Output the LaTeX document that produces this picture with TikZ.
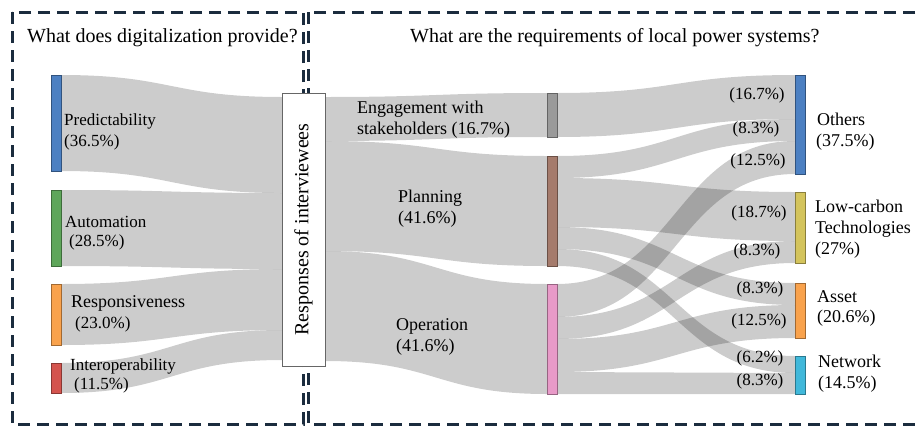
\documentclass[tikz,border=0pt]{standalone}
\usepackage{fontspec}
\setmainfont{Liberation Serif}
\definecolor{cBlue}{HTML}{4C80C2}
\definecolor{cGreen}{HTML}{5EA65A}
\definecolor{cOrange}{HTML}{F9A24C}
\definecolor{cRed}{HTML}{D4544E}
\definecolor{cGray}{HTML}{9A9A9A}
\definecolor{cBrown}{HTML}{A57B6C}
\definecolor{cPink}{HTML}{E89AC8}
\definecolor{cYellow}{HTML}{D4C45C}
\definecolor{cCyan}{HTML}{40B8DA}
\definecolor{cNavy}{HTML}{1B2C3E}
\newcommand{\fsTitle}{\fontsize{20}{24}\selectfont}
\newcommand{\fsLab}{\fontsize{18}{21.6}\selectfont}
\newcommand{\fsLeft}{\fontsize{17}{20.4}\selectfont}
\newcommand{\fsPct}{\fontsize{17}{20.4}\selectfont}
\newcommand{\sflow}[6]{\fill[flowfill] (#1,#2) .. controls ({(#1+#4)/2},#2) and ({(#1+#4)/2},#5) .. (#4,#5) -- (#4,#6) .. controls ({(#1+#4)/2},#6) and ({(#1+#4)/2},#3) .. (#1,#3) -- cycle;}
\tikzset{
  flowfill/.style={fill=black, fill opacity=0.2},
  bar/.style={draw=#1!65!black, fill=#1, line width=0.6pt, minimum width=10pt, inner sep=0pt, outer sep=0pt, anchor=north west},
  dashbox/.style={draw=cNavy, line width=3pt, dash pattern=on 12pt off 7pt},
  labL/.style={anchor=base west, inner sep=0pt, font=\fsLeft},
  labR/.style={anchor=base west, inner sep=0pt, font=\fsLab},
  pct/.style={anchor=base, inner sep=0pt, font=\fsPct},
  ttl/.style={anchor=base west, inner sep=0pt, font=\fsTitle},
  respbox/.style={draw=black!60, fill=white, line width=1pt, rotate=90, minimum width=273pt, minimum height=43pt, inner sep=0pt, font=\fsTitle}
}
\begin{document}
\begin{tikzpicture}[x=1pt,y=-1pt]
\useasboundingbox (0,0) rectangle (920,429);
\clip (0,0) rectangle (920,429);
\fill[white] (0,0) rectangle (920,429);

% dashed frames
\draw[dashbox] (12,12) rectangle (303,424);
\draw[dashbox] (308,12) rectangle (950,424);

% titles
\node[ttl] (t1) at (27,42) {What does digitalization provide?};
\node[ttl] (t2) at (410,42) {What are the requirements of local power systems?};

% left flows
\sflow{61}{75}{171}{282}{97}{193}
\sflow{61}{190}{266}{282}{193}{269}
\sflow{61}{284}{345}{282}{269}{330}
\sflow{61}{363}{393}{282}{330}{360}

% middle flows
\sflow{325}{97}{141}{547}{93}{137}
\sflow{325}{141}{251}{547}{156}{266}
\sflow{325}{251}{361}{547}{284}{394}

% right flows
\sflow{557}{93}{137}{795}{75}{119}
\sflow{557}{156}{178}{795}{119}{141}
\sflow{557}{284}{317}{795}{141}{174}
\sflow{557}{178}{227}{795}{192}{241}
\sflow{557}{317}{339}{795}{241}{263}
\sflow{557}{227}{249}{795}{283}{305}
\sflow{557}{339}{372}{795}{305}{338}
\sflow{557}{249}{266}{795}{356}{373}
\sflow{557}{372}{394}{795}{373}{394}

% left bars
\node[bar=cBlue, minimum height=96pt] (pred) at (51,75) {};
\node[bar=cGreen, minimum height=76pt] (auto) at (51,190) {};
\node[bar=cOrange, minimum height=61pt] (respo) at (51,284) {};
\node[bar=cRed, minimum height=30pt] (inter) at (51,363) {};

% middle box
\node[respbox] (resp) at (303.5,229.5) {Responses of interviewees};

% middle bars
\node[bar=cGray, minimum height=44pt] (eng) at (547,93) {};
\node[bar=cBrown, minimum height=110pt] (plan) at (547,156) {};
\node[bar=cPink, minimum height=110pt] (oper) at (547,284) {};

% right bars
\node[bar=cBlue, minimum height=99pt] (oth) at (795,75) {};
\node[bar=cYellow, minimum height=71pt] (lowc) at (795,192) {};
\node[bar=cOrange, minimum height=55pt] (asset) at (795,283) {};
\node[bar=cCyan, minimum height=38pt] (netw) at (795,356) {};

% left labels
\node[labL] (l1a) at (64,125) {Predictability};
\node[labL] (l1b) at (64,146) {(36.5\%)};
\node[labL] (l2a) at (65,227) {Automation};
\node[labL] (l2b) at (69,246) {(28.5\%)};
\node[labR] (l3a) at (71,307) {Responsiveness};
\node[labL] (l3b) at (75,328) {(23.0\%)};
\node[labL] (l4a) at (70,370) {Interoperability};
\node[labL] (l4b) at (74,389) {(11.5\%)};

% middle labels
\node[labR] (m1a) at (357,113) {Engagement with};
\node[labR] (m1b) at (357,134) {stakeholders (16.7\%)};
\node[labR] (m2a) at (398,202) {Planning};
\node[labR] (m2b) at (398,223) {(41.6\%)};
\node[labR] (m3a) at (396,330) {Operation};
\node[labR] (m3b) at (396,351) {(41.6\%)};

% flow percentages
\node[pct] (p1) at (757,99) {(16.7\%)};
\node[pct] (p2) at (756,133) {(8.3\%)};
\node[pct] (p3) at (758,165) {(12.5\%)};
\node[pct] (p4) at (759,217) {(18.7\%)};
\node[pct] (p5) at (757,255) {(8.3\%)};
\node[pct] (p6) at (760,293) {(8.3\%)};
\node[pct] (p7) at (759,325) {(12.5\%)};
\node[pct] (p8) at (760,362) {(6.2\%)};
\node[pct] (p9) at (760,385) {(8.3\%)};

% right labels
\node[labR] (r1a) at (817,125) {Others};
\node[labR] (r1b) at (816,146) {(37.5\%)};
\node[labR] (r2a) at (815,212) {Low-carbon};
\node[labR] (r2b) at (815,233) {Technologies};
\node[labR] (r2c) at (815,254) {(27\%)};
\node[labR] (r3a) at (817,302) {Asset};
\node[labR] (r3b) at (817,322) {(20.6\%)};
\node[labR] (r4a) at (818,367) {Network};
\node[labR] (r4b) at (818,388) {(14.5\%)};
\end{tikzpicture}
\end{document}
